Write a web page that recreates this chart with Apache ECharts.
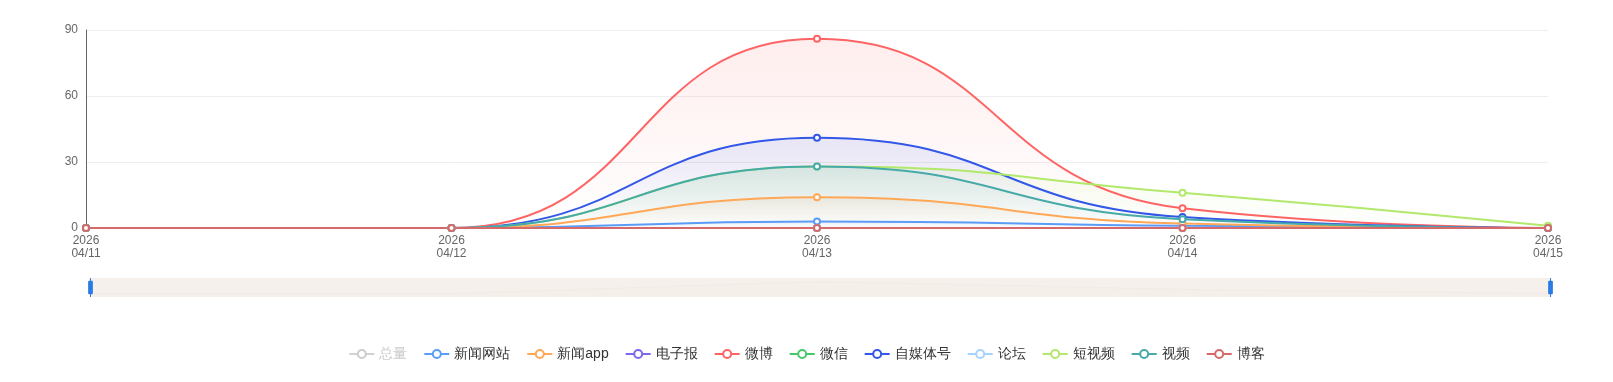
<!DOCTYPE html>
<html>
<head>
<meta charset="utf-8">
<script src="https://cdn.jsdelivr.net/npm/echarts@6/dist/echarts.min.js"></script>
<style>html,body{margin:0;padding:0;background:#fff;}#c{width:1613px;height:382px;}</style>
</head>
<body>
<div id="c"></div>
<script>
const categories = ['2026\n04/11', '2026\n04/12', '2026\n04/13', '2026\n04/14', '2026\n04/15'];
const yTicks = [0, 30, 60, 90];
const seriesNames = ['总量', '新闻网站', '新闻app', '电子报', '微博', '微信', '自媒体号', '论坛', '短视频', '视频', '博客'];
const total     = [0, 0, 200, 37, 1];
const newsSite  = [0, 0, 3, 1, 0];
const newsApp   = [0, 0, 14, 2, 0];
const ePaper    = [0, 0, 0, 0, 0];
const weibo     = [0, 0, 86, 9, 0];
const wechat    = [0, 0, 0, 0, 0];
const selfMedia = [0, 0, 41, 5, 0];
const forum     = [0, 0, 0, 0, 0];
const shortVideo= [0, 0, 28, 16, 1];
const video     = [0, 0, 28, 4, 0];
const blog      = [0, 0, 0, 0, 0];

const seriesData = [total, newsSite, newsApp, ePaper, weibo, wechat, selfMedia, forum, shortVideo, video, blog];
const colors = ['#c8c8c8', '#5b9cf8', '#ffa858', '#7b68ee', '#ff6464', '#45c86a', '#3358e8', '#a5d3ff', '#b2e86b', '#46aaa8', '#d66a6a'];

function hexA(hex, a) {
  const n = parseInt(hex.slice(1), 16);
  return 'rgba(' + ((n >> 16) & 255) + ',' + ((n >> 8) & 255) + ',' + (n & 255) + ',' + a + ')';
}

const chart = echarts.init(document.getElementById('c'));
chart.setOption({
  animation: false,
  color: colors,
  grid: { left: 86, right: 65, top: 30, bottom: 154 },
  legend: {
    bottom: 16,
    left: 'center',
    itemWidth: 25,
    itemHeight: 10,
    itemGap: 16,
    textStyle: { fontSize: 14, color: '#333' },
    inactiveColor: '#ccc',
    selected: { '总量': false },
    data: seriesNames
  },
  xAxis: {
    type: 'category',
    boundaryGap: false,
    data: categories,
    axisLine: { show: true, lineStyle: { color: '#666' } },
    axisTick: { show: false },
    axisLabel: { color: '#666', fontSize: 12, lineHeight: 13, margin: 6, interval: 0 }
  },
  yAxis: {
    type: 'value',
    min: yTicks[0],
    max: yTicks[yTicks.length - 1],
    interval: 30,
    axisLine: { show: true, lineStyle: { color: '#666' } },
    axisTick: { show: false },
    axisLabel: { color: '#666', fontSize: 12, margin: 8 },
    splitLine: { lineStyle: { color: '#eee' } }
  },
  dataZoom: [{
    type: 'slider',
    xAxisIndex: 0,
    start: 0,
    end: 100,
    left: 87,
    right: 64,
    top: 278,
    height: 19,
    showDetail: false,
    brushSelect: false,
    moveHandleSize: 0,
    borderColor: 'transparent',
    backgroundColor: '#f6f0ec',
    fillerColor: 'rgba(246,240,236,0.4)',
    handleIcon: 'path://M2,0 h1 v3 h1 a1,1 0 0 1 1,1 v12 a1,1 0 0 1 -1,1 h-1 v3 h-1 v-3 h-1 a1,1 0 0 1 -1,-1 v-12 a1,1 0 0 1 1,-1 h1z',
    handleSize: '100%',
    handleStyle: { color: '#2b7be5', borderColor: '#2b7be5', borderWidth: 0 },
    dataBackground: {
      lineStyle: { color: '#e8e0da', width: 0.5 },
      areaStyle: { color: '#f1eae5' }
    },
    selectedDataBackground: {
      lineStyle: { color: '#e8e0da', width: 0.5 },
      areaStyle: { color: '#f1eae5' }
    }
  }],
  series: seriesNames.map((name, i) => ({
    name: name,
    type: 'line',
    smooth: true,
    data: seriesData[i],
    symbol: 'emptyCircle',
    symbolSize: 6,
    lineStyle: { width: 2 },
    itemStyle: { color: colors[i] },
    areaStyle: {
      color: new echarts.graphic.LinearGradient(0, 0, 0, 1, [
        { offset: 0, color: hexA(colors[i], 0.16) },
        { offset: 1, color: hexA(colors[i], 0.0) }
      ])
    }
  }))
});
</script>
</body>
</html>
